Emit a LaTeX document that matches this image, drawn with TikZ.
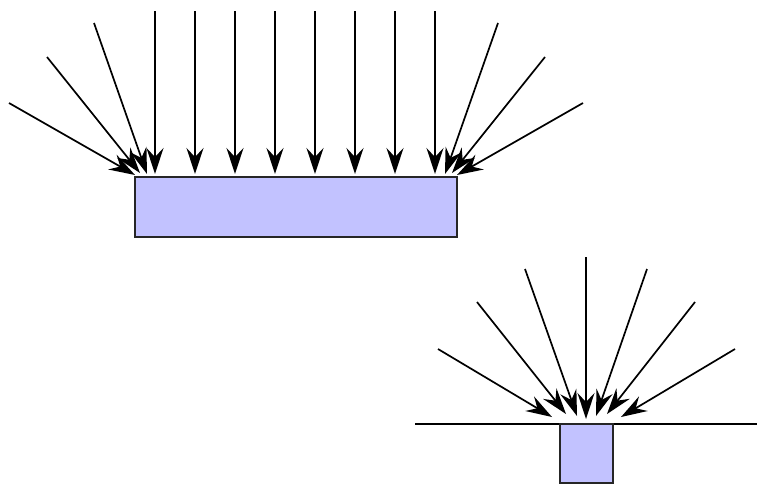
\documentclass[tikz,border=0pt]{standalone}
\usetikzlibrary{arrows.meta}
\definecolor{platefill}{HTML}{C2C2FF}
\tikzset{
    ray/.style={line width=1.7pt, -{Stealth[length=26pt, width=17pt, inset=9pt]}},
    plate/.style={draw=black!85, line width=1.6pt, fill=platefill}
}
\begin{document}
\begin{tikzpicture}[x=1pt, y=-1pt]
        \useasboundingbox (0,0) rectangle (757,485);
        % wide plate, straight and slanted rays
        \draw[plate] (135,177) rectangle (457,237);
        \foreach \x in {155,195,...,435}
            \draw[ray] (\x,11) -- (\x,174);
        \draw[ray] (9,103) -- (135,175);
        \draw[ray] (47,57) -- (140,173);
        \draw[ray] (94,23) -- (147,174);
        \draw[ray] (583,103) -- (457,175);
        \draw[ray] (545,57) -- (452,173);
        \draw[ray] (498,23) -- (445,174);
        % narrow hole in a surface
        \draw[line width=1.6pt] (415,424) -- (757,424);
        \draw[plate] (560,424) rectangle (613,483);
        \draw[ray] (438,349) -- (552,417);
        \draw[ray] (477,302) -- (566,414);
        \draw[ray] (525,269) -- (577,416);
        \draw[ray] (586,257) -- (586,419);
        \draw[ray] (647,269) -- (596,416);
        \draw[ray] (695,302) -- (607,414);
        \draw[ray] (735,349) -- (621,417);
    \end{tikzpicture}
\end{document}
